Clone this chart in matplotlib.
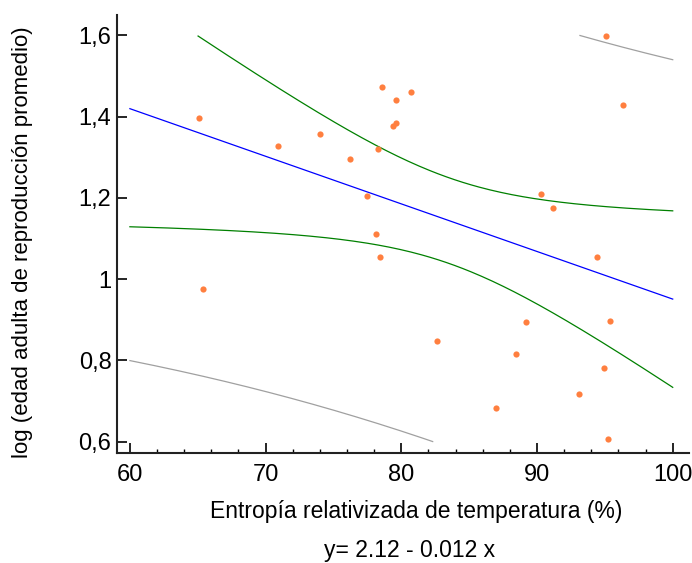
import numpy as np
import matplotlib
matplotlib.use("Agg")
import matplotlib.pyplot as plt
from matplotlib.ticker import MultipleLocator, FuncFormatter

plt.rcParams['font.family'] = ['Liberation Sans Narrow', 'Liberation Sans', 'DejaVu Sans']

# data
entropia = [65.1, 65.4, 70.9, 74.0, 76.2, 77.45, 78.1, 78.3, 78.4, 78.6, 79.4, 79.6,
            79.6, 80.7, 82.6, 86.97, 88.45, 89.2, 90.3, 91.2, 93.1, 94.4, 94.9, 95.07,
            95.25, 95.4, 96.3]
log_edad = [1.396, 0.976, 1.327, 1.357, 1.295, 1.205, 1.112, 1.319, 1.055, 1.473, 1.378, 1.383,
            1.441, 1.460, 0.848, 0.683, 0.816, 0.894, 1.210, 1.175, 0.718, 1.055, 0.782, 1.598,
            0.606, 0.897, 1.428]

x = np.array(entropia)
y = np.array(log_edad)
n = len(x)
b, a = np.polyfit(x, y, 1)
res = y - (a + b * x)
s = np.sqrt(np.sum(res ** 2) / (n - 2))
sxx = np.sum((x - x.mean()) ** 2)
t95 = 2.0595  # t(0.975, df=25)

xg = np.linspace(60, 100, 200)
yg = a + b * xg
se_m = s * np.sqrt(1 / n + (xg - x.mean()) ** 2 / sxx)
se_p = s * np.sqrt(1 + 1 / n + (xg - x.mean()) ** 2 / sxx)


def clip(v):
    v = v.copy()
    v[(v > 1.6) | (v < 0.6)] = np.nan
    return v


fig = plt.figure(figsize=(6.92, 5.63), dpi=100)
ax = fig.add_axes([117 / 692, 1 - 453 / 563, (689 - 117) / 692, (453 - 15) / 563])

ax.plot(xg, clip(yg + t95 * se_p), color='#a0a0a0', lw=0.9)
ax.plot(xg, clip(yg - t95 * se_p), color='#a0a0a0', lw=0.9)
ax.plot(xg, clip(yg + t95 * se_m), color='#008000', lw=0.9)
ax.plot(xg, clip(yg - t95 * se_m), color='#008000', lw=0.9)
ax.plot(xg, yg, color='#0000ff', lw=0.9)
ax.scatter(x, y, s=20, color='#ff7f3f', zorder=3, linewidths=0)

ax.set_xlim(59.05, 101.2)
ax.set_ylim(0.572, 1.65)
ax.xaxis.set_major_locator(MultipleLocator(10))
ax.xaxis.set_minor_locator(MultipleLocator(2))
ax.yaxis.set_major_locator(MultipleLocator(0.2))
ax.yaxis.set_major_formatter(FuncFormatter(lambda v, p: ('%g' % round(v, 2)).replace('.', ',')))
ax.tick_params(which='major', direction='in', length=7, width=1.2, labelsize=17)
ax.tick_params(axis='x', which='major', pad=8)
ax.tick_params(axis='y', which='major', pad=4)
ax.tick_params(which='minor', direction='in', length=3, width=1)
for sp in ['top', 'right']:
    ax.spines[sp].set_visible(False)
for sp in ['left', 'bottom']:
    ax.spines[sp].set_linewidth(1.5)
    ax.spines[sp].set_color('#222222')

ax.set_xlabel('Entropía relativizada de temperatura (%)', fontsize=16.5)
ax.set_ylabel('log (edad adulta de reproducción promedio)', fontsize=16)
ax.xaxis.set_label_coords(0.523, -0.108)
ax.yaxis.set_label_coords(-0.147, 0.482)
fig.text(410 / 692, 1 - 557 / 563, 'y= 2.12 - 0.012 x', fontsize=16.5,
         ha='center', va='baseline')

fig.savefig('out.png')
